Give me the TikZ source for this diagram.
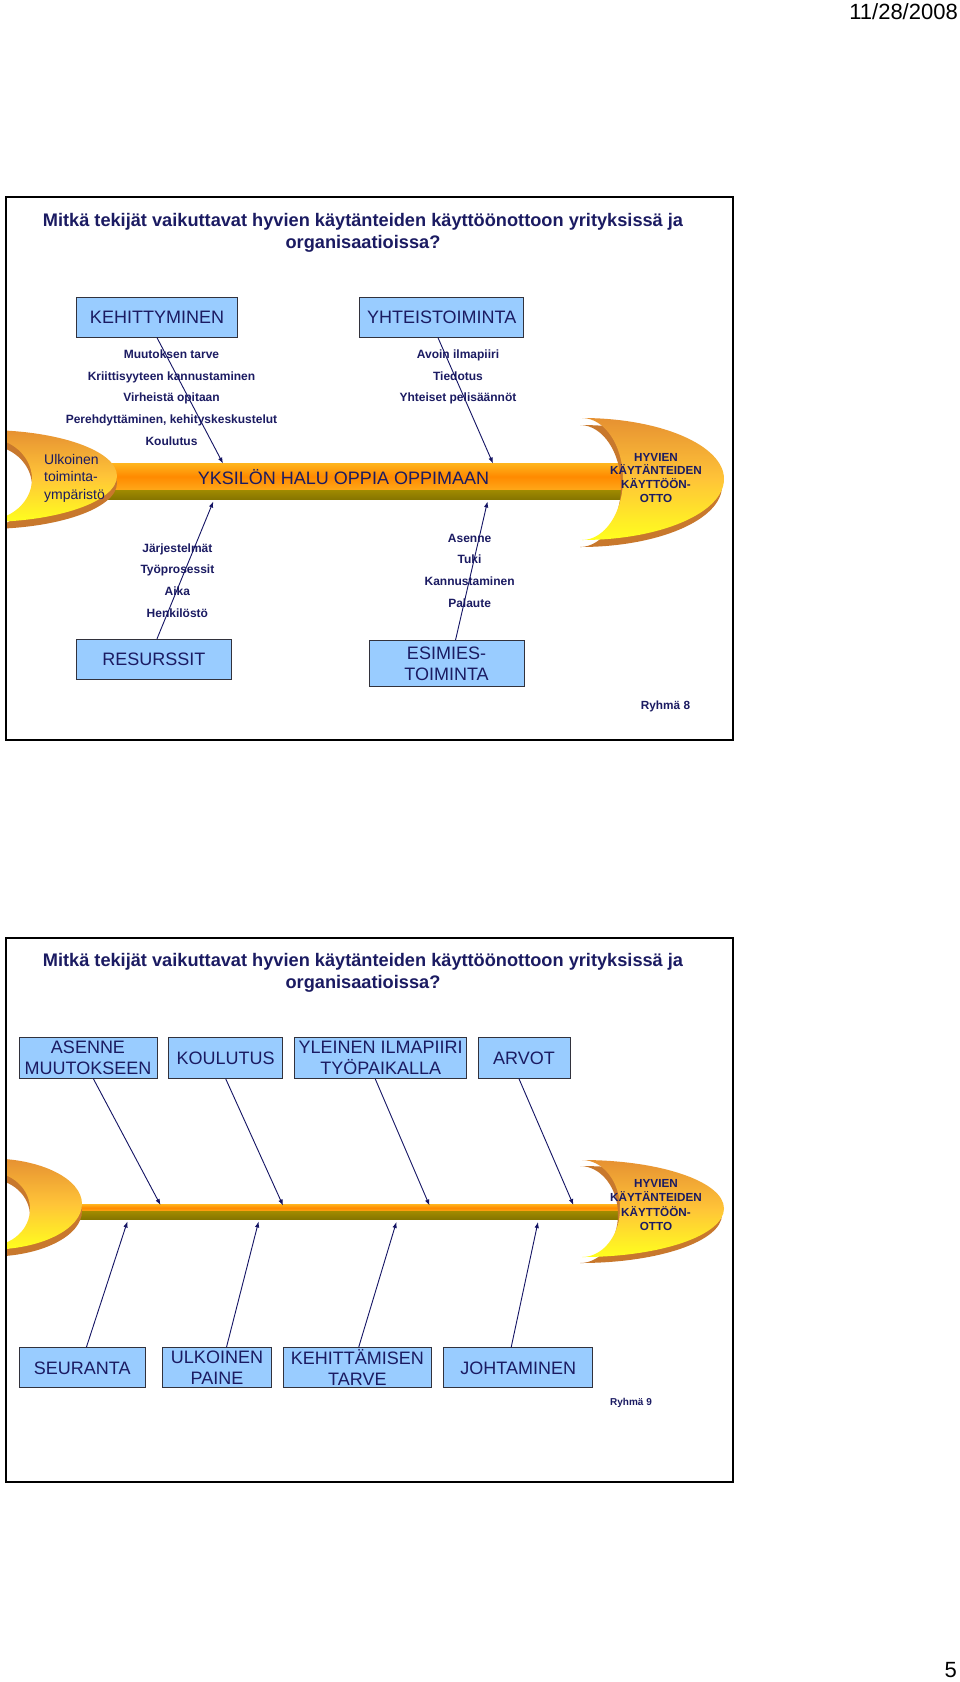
\documentclass[tikz,border=0pt]{standalone}
\usepackage{fontspec}
\setmainfont{Liberation Sans}
\usetikzlibrary{arrows.meta,calc}
\definecolor{navy}{RGB}{27,27,98}
\definecolor{boxfill}{RGB}{153,204,255}
\definecolor{boxline}{RGB}{50,50,60}
\definecolor{arrowc}{RGB}{20,20,100}
\definecolor{crTop}{RGB}{230,145,50}
\definecolor{crMid}{RGB}{255,196,56}
\definecolor{crBot}{RGB}{255,255,30}
\definecolor{crBack}{RGB}{200,120,45}
\definecolor{barTop}{RGB}{255,182,30}
\definecolor{barMid}{RGB}{255,138,0}
\definecolor{barBot}{RGB}{255,168,25}
\definecolor{oliveTop}{RGB}{160,138,0}
\definecolor{oliveBot}{RGB}{135,118,0}
% crescent path: cx, cy(outer), ry(outer), rx(outer), cy(inner), ry(inner), rx(inner)
\newcommand{\crespath}[7]{(#1,#2-#3) arc[start angle=-90,end angle=90,x radius=#4,y radius=#3] -- (#1,#5+#6) arc[start angle=90,end angle=-90,x radius=#7,y radius=#6] -- cycle}
\newcommand{\drawcres}[9]{%
  \fill[crBack,shift={(#8,#9)}] \crespath{#1}{#2}{#3}{#4}{#5}{#6}{#7};
  \shade[top color=crTop,bottom color=crBot,middle color=crMid] \crespath{#1}{#2}{#3}{#4}{#5}{#6}{#7};}
\begin{document}
\begin{tikzpicture}[x=1pt,y=-1pt,
  box/.style={draw=boxline,line width=1pt,fill=boxfill,inner sep=0pt,align=center,text=navy,font=\fontsize{18}{21}\selectfont},
  itm/.style={anchor=base,inner sep=0pt,text=navy,font=\bfseries\fontsize{12}{14}\selectfont},
  headtxt/.style={anchor=base,inner sep=0pt,text=navy,font=\bfseries\fontsize{11.7}{14}\selectfont},
  tailtxt/.style={anchor=base west,inner sep=0pt,text=navy,font=\fontsize{14}{17}\selectfont},
  spinetxt/.style={anchor=base,inner sep=0pt,text=navy,font=\fontsize{18}{21}\selectfont},
  titletxt/.style={align=center,inner sep=0pt,text=navy,font=\bfseries\fontsize{18.2}{22}\selectfont},
  pagetxt/.style={anchor=base east,inner sep=0pt,text=black,font=\fontsize{22}{24}\selectfont},
  conn/.style={draw=arrowc,line width=0.9pt,-{Latex[length=6pt,width=4.5pt]}},
  frame/.style={draw=black,line width=2pt}]
\useasboundingbox (0,0) rectangle (960,1682);
\fill[white] (0,0) rectangle (960,1682);

\node[pagetxt] (date) at (958,19.5) {11/28/2008};
\node[pagetxt] (pageno) at (957,1677) {5};

% ================= PANEL 1 =================
% spine
\shade[top color=barTop,bottom color=barBot,middle color=barMid] (95,463) rectangle (622,490);
\shade[top color=oliveTop,bottom color=oliveBot] (95,490) rectangle (622,499);
% tail (clipped at frame)
\begin{scope}
  \clip (6,400) rectangle (200,560);
  \drawcres{-15}{476}{46}{132}{479}{41.4}{47}{0}{7}
\end{scope}
% head
\drawcres{582}{479}{61}{142}{479}{61}{41}{-2}{7}
\draw[frame] (5.5,197) rectangle (732.5,740);

\node[titletxt] (title1) at (363,232.7) {Mitkä tekijät vaikuttavat hyvien käytänteiden käyttöönottoon yrityksissä ja\\organisaatioissa?};

\node[box,minimum width=161pt,minimum height=40pt] (kehit) at (157,317.2) {KEHITTYMINEN};
\node[box,minimum width=164pt,minimum height=40pt] (yhteis) at (441.7,317.2) {YHTEISTOIMINTA};
\node[box,minimum width=155pt,minimum height=40pt] (resurssit) at (153.8,659.3) {RESURSSIT};
\node[box,minimum width=155pt,minimum height=46pt] (esimies) at (446.5,663.7) {ESIMIES-\\TOIMINTA};

\node[itm] (k1) at (171.5,358.3) {Muutoksen tarve};
\node[itm] (k2) at (171.5,380.1) {Kriittisyyteen kannustaminen};
\node[itm] (k3) at (171.5,401.9) {Virheistä opitaan};
\node[itm] (k4) at (171.5,423.7) {Perehdyttäminen, kehityskeskustelut};
\node[itm] (k5) at (171.5,445.5) {Koulutus};
\node[itm] (y1) at (458,358.3) {Avoin ilmapiiri};
\node[itm] (y2) at (458,380.1) {Tiedotus};
\node[itm] (y3) at (458,401.9) {Yhteiset pelisäännöt};
\node[itm] (r1) at (177.4,552) {Järjestelmät};
\node[itm] (r2) at (177.4,573.8) {Työprosessit};
\node[itm] (r3) at (177.4,595.6) {Aika};
\node[itm] (r4) at (177.4,617.4) {Henkilöstö};
\node[itm] (s1) at (469.6,542) {Asenne};
\node[itm] (s2) at (469.6,563.8) {Tuki};
\node[itm] (s3) at (469.6,585.6) {Kannustaminen};
\node[itm] (s4) at (469.6,607.4) {Palaute};

\node[tailtxt] (tail1a) at (44,464) {Ulkoinen};
\node[tailtxt] (tail1b) at (44,481.5) {toiminta-};
\node[tailtxt] (tail1c) at (44,499) {ympäristö};
\node[spinetxt] (spine1) at (343.5,484.4) {YKSILÖN HALU OPPIA OPPIMAAN};
\node[headtxt] (h1a) at (656,461) {HYVIEN};
\node[headtxt] (h1b) at (656,474.8) {KÄYTÄNTEIDEN};
\node[headtxt] (h1c) at (656,488.8) {KÄYTTÖÖN-};
\node[headtxt] (h1d) at (656,502.6) {OTTO};
\node[itm,font=\bfseries\fontsize{11.8}{14}\selectfont] (ryhma8) at (665.5,709) {Ryhmä 8};

\coordinate (p1a) at (223,463.5);
\coordinate (p1b) at (493,463.5);
\coordinate (p1c) at (213.3,501.5);
\coordinate (p1d) at (487.5,501.5);
\draw[conn] (kehit.south) -- (p1a);
\draw[conn] ([xshift=-3.7pt]yhteis.south) -- (p1b);
\draw[conn] ([xshift=3.2pt]resurssit.north) -- (p1c);
\draw[conn] ([xshift=9pt]esimies.north) -- (p1d);

% ================= PANEL 2 =================
\shade[top color=barTop,bottom color=barBot,middle color=barMid] (70,1204) rectangle (622,1211.5);
\shade[top color=oliveTop,bottom color=oliveBot] (70,1211.5) rectangle (622,1219);
\begin{scope}
  \clip (6,1140) rectangle (200,1290);
  \drawcres{-10}{1204}{45.6}{92}{1209}{36.7}{40}{0}{7}
\end{scope}
\drawcres{582}{1208.5}{48.5}{142}{1208.5}{48.5}{38}{-2}{6}
\draw[frame] (5.5,938) rectangle (732.5,1482);

\node[titletxt] (title2) at (363,973.3) {Mitkä tekijät vaikuttavat hyvien käytänteiden käyttöönottoon yrityksissä ja\\organisaatioissa?};

\node[box,minimum width=138pt,minimum height=40.6pt] (asenne) at (88,1058) {ASENNE\\MUUTOKSEEN};
\node[box,minimum width=114.5pt,minimum height=40.6pt] (koulutus) at (225.7,1058) {KOULUTUS};
\node[box,minimum width=172.5pt,minimum height=40.6pt] (yleinen) at (380.7,1058) {YLEINEN ILMAPIIRI\\TYÖPAIKALLA};
\node[box,minimum width=92pt,minimum height=40.6pt] (arvot) at (524,1058) {ARVOT};
\node[box,minimum width=126.4pt,minimum height=40.3pt] (seuranta) at (82.2,1367.8) {SEURANTA};
\node[box,minimum width=109.5pt,minimum height=40.3pt] (ulkoinen) at (217,1367.8) {ULKOINEN\\PAINE};
\node[box,minimum width=148.8pt,minimum height=40.3pt] (kehittamisen) at (357.4,1367.8) {KEHITTÄMISEN\\TARVE};
\node[box,minimum width=149pt,minimum height=40.3pt] (johtaminen) at (518.2,1367.8) {JOHTAMINEN};

\node[headtxt] (h2a) at (656,1187.5) {HYVIEN};
\node[headtxt] (h2b) at (656,1201.8) {KÄYTÄNTEIDEN};
\node[headtxt] (h2c) at (656,1216.1) {KÄYTTÖÖN-};
\node[headtxt] (h2d) at (656,1230.3) {OTTO};
\node[itm,font=\bfseries\fontsize{10}{12}\selectfont] (ryhma9) at (631,1405) {Ryhmä 9};

\coordinate (p2a) at (160.5,1205);
\coordinate (p2b) at (283,1205.5);
\coordinate (p2c) at (429.5,1205.5);
\coordinate (p2d) at (573.4,1205);
\coordinate (p2e) at (127.4,1221.5);
\coordinate (p2f) at (258.6,1221.5);
\coordinate (p2g) at (396.4,1222);
\coordinate (p2h) at (538,1222);
\draw[conn] ([xshift=5.4pt]asenne.south) -- (p2a);
\draw[conn] (koulutus.south) -- (p2b);
\draw[conn] ([xshift=-5.5pt]yleinen.south) -- (p2c);
\draw[conn] ([xshift=-5pt]arvot.south) -- (p2d);
\draw[conn] ([xshift=4.2pt]seuranta.north) -- (p2e);
\draw[conn] ([xshift=9.5pt]ulkoinen.north) -- (p2f);
\draw[conn] ([xshift=1.3pt]kehittamisen.north) -- (p2g);
\draw[conn] ([xshift=-7pt]johtaminen.north) -- (p2h);
\end{tikzpicture}
\end{document}
